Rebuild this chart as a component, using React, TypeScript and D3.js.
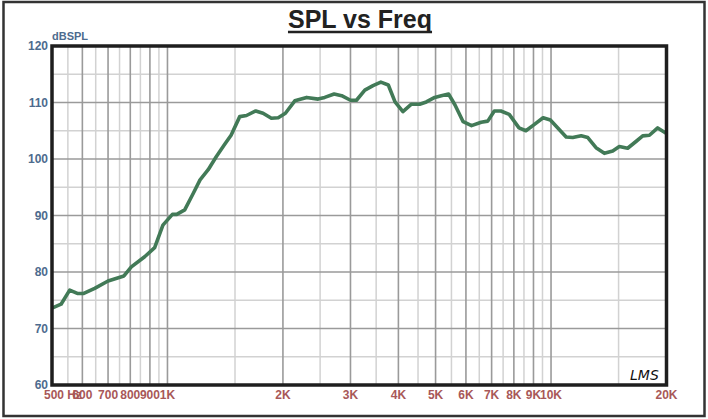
import React, { useEffect, useRef } from 'react';
import * as d3 from 'd3';

const freqs = [500, 528, 556, 582, 605, 646, 700, 770, 805, 872,
  926, 973, 1030, 1057, 1109, 1167, 1216, 1277, 1340, 1410,
  1465, 1543, 1607, 1699, 1775, 1866, 1944, 2030, 2148, 2306,
  2470, 2570, 2720, 2845, 3000, 3110, 3270, 3435, 3600, 3765,
  3920, 4110, 4325, 4545, 4730, 4975, 5175, 5405, 5615, 5900,
  6205, 6575, 6840, 7115, 7400, 7780, 8250, 8600, 9000, 9535,
  9960, 10415, 10950, 11390, 11985, 12470, 13100, 13775, 14480, 15070,
  15840, 16650, 17340, 18050, 18970, 20000];
const spl = [73.6, 74.3, 76.8, 76.2, 76.2, 77.1, 78.4, 79.3, 80.9, 82.7,
  84.3, 88.3, 90.2, 90.2, 91.0, 93.9, 96.3, 98.1, 100.4, 102.6,
  104.2, 107.5, 107.7, 108.5, 108.1, 107.2, 107.3, 108.1, 110.3, 110.9,
  110.6, 110.9, 111.5, 111.2, 110.4, 110.4, 112.2, 113.0, 113.6, 113.1,
  110.1, 108.4, 109.7, 109.7, 110.1, 110.9, 111.2, 111.5, 109.6, 106.6,
  105.9, 106.5, 106.7, 108.5, 108.5, 107.9, 105.5, 105.0, 106.0, 107.3,
  106.9, 105.5, 103.9, 103.8, 104.1, 103.8, 102.0, 101.0, 101.4, 102.2,
  101.9, 103.1, 104.1, 104.2, 105.5, 104.5];

const yTicks = [60, 70, 80, 90, 100, 110, 120];
const yMinor = [65, 75, 85, 95, 105, 115];
const xMajor = [600, 700, 800, 900, 1000, 2000, 3000, 4000, 5000, 6000, 7000, 8000, 9000, 10000];
const xMinor = [550, 650, 750, 850, 950, 1500, 2500, 3500, 4500, 5500, 6500, 7500, 8500, 9500, 15000];
const xLabels = [
  { f: 600, t: '600' }, { f: 700, t: '700' }, { f: 800, t: '800' }, { f: 900, t: '900' },
  { f: 1000, t: '1K' }, { f: 2000, t: '2K' }, { f: 3000, t: '3K' }, { f: 4000, t: '4K' },
  { f: 5000, t: '5K' }, { f: 6000, t: '6K' }, { f: 7000, t: '7K' }, { f: 8000, t: '8K' },
  { f: 9000, t: '9K' }, { f: 10000, t: '10K' }, { f: 20000, t: '20K' },
];

const FONT = '"Liberation Sans", Arial, sans-serif';
const W = 708, H = 419;

const App = () => {
  const svgRef = useRef(null);

  useEffect(() => {
    const svg = d3.select(svgRef.current);
    svg.selectAll('*').remove();

    const left = 52, right = 666.5, top = 46, bottom = 385;

    const x = d3.scaleLog().domain([500, 20000]).range([left, right]);
    const y = d3.scaleLinear().domain([60, 120]).range([bottom, top]);

    // outer frame
    svg.append('rect')
      .attr('x', 3.5).attr('y', 2).attr('width', 701).attr('height', 414)
      .attr('fill', 'white').attr('stroke', '#333').attr('stroke-width', 2.5);

    // title
    const title = svg.append('text')
      .attr('x', 360).attr('y', 28)
      .attr('text-anchor', 'middle')
      .style('font-family', FONT).style('font-weight', 'bold').style('font-size', '25px')
      .style('fill', '#222')
      .text('SPL vs Freq');
    const tw = (title.node() as any).getComputedTextLength();
    svg.append('line')
      .attr('x1', 360 - tw / 2).attr('x2', 360 + tw / 2)
      .attr('y1', 32).attr('y2', 32)
      .attr('stroke', '#222').attr('stroke-width', 2.5);

    const g = svg.append('g');

    // grid
    g.selectAll('.yminor').data(yMinor).enter().append('line')
      .attr('x1', left).attr('x2', right)
      .attr('y1', d => y(d)).attr('y2', d => y(d))
      .attr('stroke', '#d2d2d2').attr('stroke-width', 1.5);
    g.selectAll('.xminor').data(xMinor).enter().append('line')
      .attr('x1', d => x(d)).attr('x2', d => x(d))
      .attr('y1', top).attr('y2', bottom)
      .attr('stroke', '#d2d2d2').attr('stroke-width', 1.5);
    g.selectAll('.ymajor').data(yTicks.slice(1, -1)).enter().append('line')
      .attr('x1', left).attr('x2', right)
      .attr('y1', d => y(d)).attr('y2', d => y(d))
      .attr('stroke', '#9a9a9a').attr('stroke-width', 1.6);
    g.selectAll('.xmajor').data(xMajor).enter().append('line')
      .attr('x1', d => x(d)).attr('x2', d => x(d))
      .attr('y1', top).attr('y2', bottom)
      .attr('stroke', '#9a9a9a').attr('stroke-width', 1.6);

    // response curve
    const line = d3.line<number>()
      .x((d, i) => x(freqs[i]))
      .y(d => y(d));
    g.append('path')
      .datum(spl)
      .attr('d', line)
      .attr('fill', 'none')
      .attr('stroke', '#427a57')
      .attr('stroke-width', 3.6)
      .attr('stroke-linejoin', 'round');

    // plot border
    g.append('rect')
      .attr('x', left).attr('y', top)
      .attr('width', right - left).attr('height', bottom - top)
      .attr('fill', 'none').attr('stroke', '#1e1e1e').attr('stroke-width', 3.5);

    // y labels
    g.selectAll('.ylab').data(yTicks).enter().append('text')
      .attr('x', 48).attr('y', d => y(d) + 4)
      .attr('text-anchor', 'end')
      .style('font-family', FONT).style('font-weight', 'bold').style('font-size', '12px')
      .style('fill', '#4d6b8e')
      .text(d => d);
    svg.append('text')
      .attr('x', 52).attr('y', 40)
      .style('font-family', FONT).style('font-weight', 'bold').style('font-size', '11px')
      .style('fill', '#4d6b8e')
      .text('dBSPL');

    // x labels
    g.selectAll('.xlab').data(xLabels).enter().append('text')
      .attr('x', d => x(d.f)).attr('y', 399)
      .attr('text-anchor', 'middle')
      .style('font-family', FONT).style('font-weight', 'bold').style('font-size', '12px')
      .style('fill', '#a85858')
      .text(d => d.t);
    g.append('text')
      .attr('x', 44).attr('y', 399)
      .style('font-family', FONT).style('font-weight', 'bold').style('font-size', '12px')
      .style('fill', '#a85858')
      .text('500 Hz');

    // logo
    svg.append('text')
      .attr('x', 630).attr('y', 380)
      .style('font-family', '"DejaVu Sans", sans-serif').style('font-style', 'italic')
      .style('font-size', '14px').style('fill', '#111')
      .text('LMS');
  }, []);

  return (
    <svg ref={svgRef} width={W} height={H}
      style={{ position: 'absolute', left: 0, top: 0, background: 'white' }} />
  );
};

export default App;
